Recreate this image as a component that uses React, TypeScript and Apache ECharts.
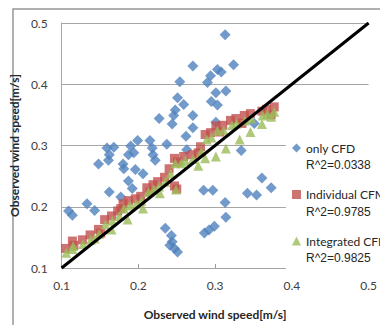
import React, { useEffect, useRef } from "react";
import * as echarts from "echarts";

const seriesNames = ["only CFD", "Individual CFM", "Integrated CFM"];
const r2Labels = ["R^2=0.0338", "R^2=0.9785", "R^2=0.9825"];
const axisMin = 0.1;
const axisMax = 0.5;
const axisStep = 0.1;
const axisTitle = "Observed wind speed[m/s]";

const onlyCfd: [number, number][] = [
  [0.313, 0.481], [0.271, 0.43], [0.324, 0.432], [0.303, 0.424], [0.308, 0.42], [0.294, 0.414],
  [0.29, 0.403], [0.254, 0.404], [0.251, 0.378], [0.259, 0.367], [0.248, 0.358], [0.246, 0.349],
  [0.244, 0.335], [0.227, 0.344], [0.301, 0.386], [0.314, 0.389], [0.295, 0.372], [0.303, 0.366],
  [0.271, 0.349], [0.301, 0.338], [0.271, 0.329], [0.262, 0.315], [0.263, 0.293], [0.334, 0.292],
  [0.237, 0.302], [0.215, 0.308], [0.218, 0.296], [0.219, 0.285], [0.222, 0.276], [0.199, 0.308],
  [0.19, 0.299], [0.194, 0.288], [0.168, 0.297], [0.159, 0.296], [0.162, 0.285], [0.148, 0.27],
  [0.161, 0.276], [0.18, 0.27], [0.181, 0.262], [0.196, 0.261], [0.206, 0.254], [0.187, 0.242],
  [0.192, 0.23], [0.162, 0.224], [0.177, 0.216], [0.109, 0.193], [0.114, 0.186], [0.133, 0.205],
  [0.143, 0.194], [0.285, 0.227], [0.297, 0.227], [0.342, 0.222], [0.354, 0.219], [0.361, 0.247],
  [0.373, 0.231], [0.313, 0.207], [0.314, 0.183], [0.286, 0.157], [0.292, 0.162], [0.299, 0.168],
  [0.235, 0.165], [0.243, 0.153], [0.244, 0.143], [0.241, 0.137], [0.247, 0.132], [0.251, 0.126],
  [0.351, 0.336], [0.187, 0.285],
];

const individualCfm: [number, number][] = [
  [0.105, 0.132], [0.114, 0.144], [0.127, 0.146], [0.137, 0.154], [0.148, 0.163], [0.156, 0.179],
  [0.165, 0.185], [0.173, 0.193], [0.18, 0.205], [0.187, 0.21], [0.196, 0.213], [0.203, 0.217],
  [0.211, 0.231], [0.219, 0.236], [0.225, 0.241], [0.234, 0.248], [0.24, 0.262], [0.247, 0.279],
  [0.259, 0.282], [0.27, 0.285], [0.281, 0.298], [0.287, 0.318], [0.294, 0.321], [0.301, 0.332],
  [0.31, 0.333], [0.32, 0.341], [0.327, 0.344], [0.338, 0.349], [0.346, 0.352], [0.361, 0.356],
  [0.367, 0.359], [0.377, 0.363],
  [0.116, 0.137], [0.151, 0.157], [0.177, 0.197], [0.215, 0.224], [0.251, 0.273], [0.278, 0.288],
  [0.306, 0.322], [0.335, 0.336], [0.373, 0.35],
  [0.247, 0.234], [0.25, 0.229],
];

const integratedCfm: [number, number][] = [
  [0.106, 0.125], [0.115, 0.136], [0.128, 0.139], [0.138, 0.146], [0.149, 0.156], [0.157, 0.171],
  [0.166, 0.177], [0.175, 0.185], [0.181, 0.197], [0.189, 0.202], [0.197, 0.205], [0.204, 0.21],
  [0.213, 0.224], [0.22, 0.228], [0.227, 0.233], [0.235, 0.241], [0.242, 0.254], [0.248, 0.271],
  [0.261, 0.275], [0.271, 0.278], [0.282, 0.29], [0.289, 0.31], [0.295, 0.313], [0.303, 0.324],
  [0.311, 0.325], [0.322, 0.333], [0.328, 0.336], [0.339, 0.341], [0.347, 0.344], [0.362, 0.349],
  [0.368, 0.352], [0.377, 0.355],
  [0.114, 0.131], [0.143, 0.148], [0.165, 0.163], [0.186, 0.179], [0.206, 0.197], [0.228, 0.222],
  [0.256, 0.271], [0.278, 0.267], [0.287, 0.279], [0.301, 0.282], [0.314, 0.295], [0.332, 0.31],
  [0.346, 0.322], [0.361, 0.335], [0.373, 0.347],
  [0.249, 0.228],
];

const identityLine: [number, number][] = [
  [0.1, 0.1],
  [0.5, 0.5],
];

const FONT = "Lato, 'Open Sans', 'Liberation Sans', sans-serif";
const COLORS = ["#4F81BD", "#C0504D", "#9BBB59"];
const ICONS = ["diamond", "rect", "triangle"];

export default function App() {
  const ref = useRef<HTMLDivElement>(null);

  useEffect(() => {
    if (!ref.current) return;
    const chart = echarts.init(ref.current, undefined, { renderer: "svg" });

    const legendTop = 129;
    const legendPadTop = 12;
    const lineH = 14;
    const itemGap = 32.5;
    const firstCenter = legendTop + legendPadTop + lineH / 2;

    const axisCommon = {
      type: "value" as const,
      min: axisMin,
      max: axisMax,
      interval: axisStep,
      name: axisTitle,
      nameLocation: "middle" as const,
      nameTextStyle: { fontWeight: "bold" as const, fontSize: 12, color: "#262626", fontFamily: FONT },
      axisLabel: {
        fontSize: 12,
        color: "#404040",
        fontFamily: FONT,
        formatter: (v: number) => v.toFixed(1),
      },
    };

    chart.setOption({
      animation: false,
      backgroundColor: "#ffffff",
      grid: { left: 59, right: 5, top: 23, bottom: 43, containLabel: false },
      xAxis: {
        ...axisCommon,
        nameGap: 40,
        axisLine: { show: false },
        axisTick: { show: true, inside: true, length: 4, lineStyle: { color: "#9a9a9a" } },
        axisLabel: { ...axisCommon.axisLabel, margin: 11 },
        splitLine: { show: false },
      },
      yAxis: {
        ...axisCommon,
        nameGap: 38,
        axisLine: { show: true, lineStyle: { color: "#a6a6a6", width: 1 } },
        axisTick: { show: false },
        axisLabel: { ...axisCommon.axisLabel, margin: 14 },
        splitLine: { show: true, lineStyle: { color: "#a6a6a6", width: 1 } },
      },
      legend: {
        orient: "vertical",
        left: 286,
        top: legendTop,
        padding: [legendPadTop, 60, 30, 6],
        itemGap,
        itemWidth: 9,
        itemHeight: 9,
        backgroundColor: "#ffffff",
        textStyle: { fontSize: 12, color: "#262626", fontFamily: FONT, lineHeight: lineH },
        data: seriesNames.map((n, i) => ({ name: n, icon: ICONS[i] })),
      },
      graphic: [
        {
          type: "rect",
          shape: { x: 13, y: 9, width: 420, height: 340 },
          style: { fill: "none", stroke: "#969696", lineWidth: 1.5 },
          silent: true,
          z: 0,
        },
        ...r2Labels.map((t, i) => ({
          type: "text",
          left: 306,
          top: firstCenter + i * (lineH + itemGap) + 18 - 7,
          z: 100,
          style: { text: t, fontSize: 12, fill: "#262626", font: `12px ${FONT}` },
          silent: true,
        })),
      ],
      series: [
        {
          name: seriesNames[0],
          type: "scatter",
          symbol: "diamond",
          symbolSize: 11,
          itemStyle: { color: COLORS[0] },
          data: onlyCfd,
        },
        {
          name: seriesNames[1],
          type: "scatter",
          symbol: "rect",
          symbolSize: 9,
          itemStyle: { color: COLORS[1] },
          data: individualCfm,
        },
        {
          name: seriesNames[2],
          type: "scatter",
          symbol: "triangle",
          symbolSize: 10,
          itemStyle: { color: COLORS[2] },
          data: integratedCfm,
        },
        {
          name: "1:1",
          type: "line",
          symbol: "none",
          silent: true,
          lineStyle: { color: "#000000", width: 3 },
          data: identityLine,
          z: 5,
        },
      ],
    });

    return () => chart.dispose();
  }, []);

  return (
    <div
      ref={ref}
      style={{ position: "fixed", left: 0, top: 0, width: 380, height: 325, background: "#fff" }}
    />
  );
}
